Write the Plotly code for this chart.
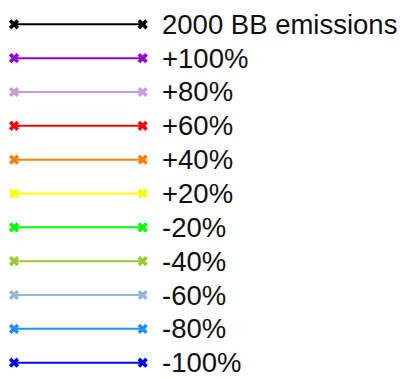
import plotly.graph_objects as go

# Scenario labels and their line colours (top to bottom)
labels = ["2000 BB emissions", "+100%", "+80%", "+60%", "+40%", "+20%",
          "-20%", "-40%", "-60%", "-80%", "-100%"]
colors = ["#000000", "#9400D3", "#C89BE0", "#FF0000", "#FF8000", "#FFFF00",
          "#00FF00", "#9ACD32", "#94B8DC", "#1E90FF", "#0000FF"]

# Each key sample is a short segment from x=0 to x=1, one row per scenario
seg_x = [0, 1]
label_x = 1.138

fig = go.Figure()
for i, (name, col) in enumerate(zip(labels, colors)):
    fig.add_trace(go.Scatter(
        x=seg_x, y=[i, i], mode="lines+markers", name=name,
        line=dict(color=col, width=2),
        marker=dict(symbol="x", size=9, color=col, line=dict(width=0)),
        showlegend=False, hoverinfo="skip",
    ))
    fig.add_annotation(
        x=label_x, y=i, text=name, showarrow=False,
        xanchor="left", yanchor="middle",
        font=dict(family="Liberation Sans, Arial, sans-serif", size=27.5, color="#111111"),
    )

fig.update_xaxes(visible=False, range=[-0.1088, 3.0846], fixedrange=True)
fig.update_yaxes(visible=False, range=[10.482, -0.718], fixedrange=True)
fig.update_layout(
    width=411, height=379,
    margin=dict(l=0, r=0, t=0, b=0),
    plot_bgcolor="white", paper_bgcolor="white",
)

fig.write_html("out.html")
